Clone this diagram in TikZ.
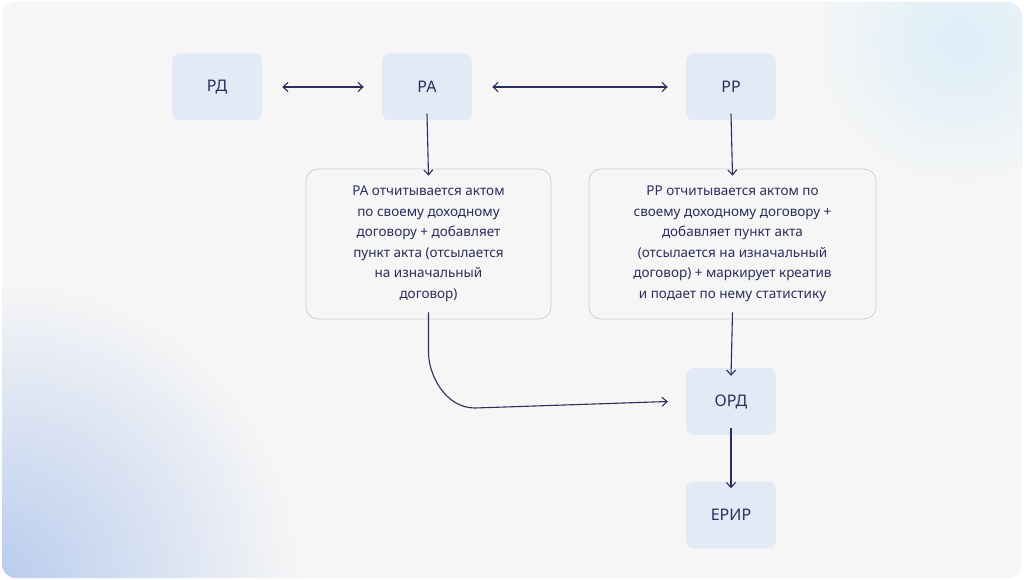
\documentclass[tikz,border=0pt]{standalone}
\usepackage{fontspec}
\setmainfont{Noto Sans}
\usetikzlibrary{arrows.meta}
\definecolor{navy}{HTML}{2B2D5C}
\definecolor{boxfill}{HTML}{E3E9F5}
\definecolor{bg}{HTML}{F6F6F6}
\definecolor{bord}{HTML}{CFCFCF}
\definecolor{blob}{HTML}{B9CCEE}
\definecolor{blob2}{HTML}{DCEEF8}
\begin{document}
\begin{tikzpicture}[x=1pt,y=-1pt,
  sbox/.style={fill=boxfill,rounded corners=8pt,minimum width=90pt,minimum height=67pt,text=navy,font=\fontsize{16}{18}\selectfont\bfseries,inner sep=0pt},
  tbox/.style={fill=bg,draw=bord,line width=0.8pt,rounded corners=12pt,text=navy,font=\fontsize{13.5}{20.5}\selectfont,align=center,inner sep=0pt},
  arr/.style={draw=navy,line width=1.1pt,-{Straight Barb[length=5pt,width=9pt]}},
  darr/.style={draw=navy,line width=1.1pt,{Straight Barb[length=5pt,width=9pt]}-{Straight Barb[length=5pt,width=9pt]}}]
\useasboundingbox (0,0) rectangle (1024,580);
\fill[white] (0,0) rectangle (1024,580);
\begin{scope}
\clip[rounded corners=14pt] (2,2) rectangle (1022,578);
\fill[bg] (0,0) rectangle (1024,580);
\shade[inner color=blob,outer color=bg] (0,580) circle (300pt);
\shade[inner color=blob2,outer color=bg] (960,40) circle (150pt);
\end{scope}
\node[sbox] (rd) at (217,87) {РД};
\node[sbox] (ra) at (427,87) {РА};
\node[sbox] (rr) at (731,87) {РР};
\node[tbox,minimum width=245pt,minimum height=150pt] (t1) at (428.5,244) {РА отчитывается актом\\по своему доходному\\договору + добавляет\\пункт акта (отсылается\\на изначальный\\договор)};
\node[tbox,minimum width=287pt,minimum height=150pt] (t2) at (732.5,244) {РР отчитывается актом по\\своему доходному договору +\\добавляет пункт акта\\(отсылается на изначальный\\договор) + маркирует креатив\\и подает по нему статистику};
\node[sbox] (ord) at (731,401.5) {ОРД};
\node[sbox] (erir) at (731,515) {ЕРИР};
\draw[darr] ([xshift=20pt]rd.east) -- ([xshift=-18pt]ra.west);
\draw[darr] ([xshift=20pt]ra.east) -- ([xshift=-18pt]rr.west);
\draw[arr] ([yshift=7pt]ra.south) -- ([yshift=-7pt]t1.north);
\draw[arr] ([yshift=7pt]rr.south) -- ([yshift=-7pt]t2.north);
\draw[arr] ([yshift=7pt]t2.south) -- ([yshift=-8pt]ord.north);
\draw[arr] ([yshift=7pt]ord.south) -- ([yshift=-7pt]erir.north);
\coordinate (c1) at ([yshift=7pt]t1.south);
\draw[arr] (c1) -- ++(0,40) .. controls +(0,22) and (445,408) .. (475,408) -- ([xshift=-18pt]ord.west);
\end{tikzpicture}
\end{document}
